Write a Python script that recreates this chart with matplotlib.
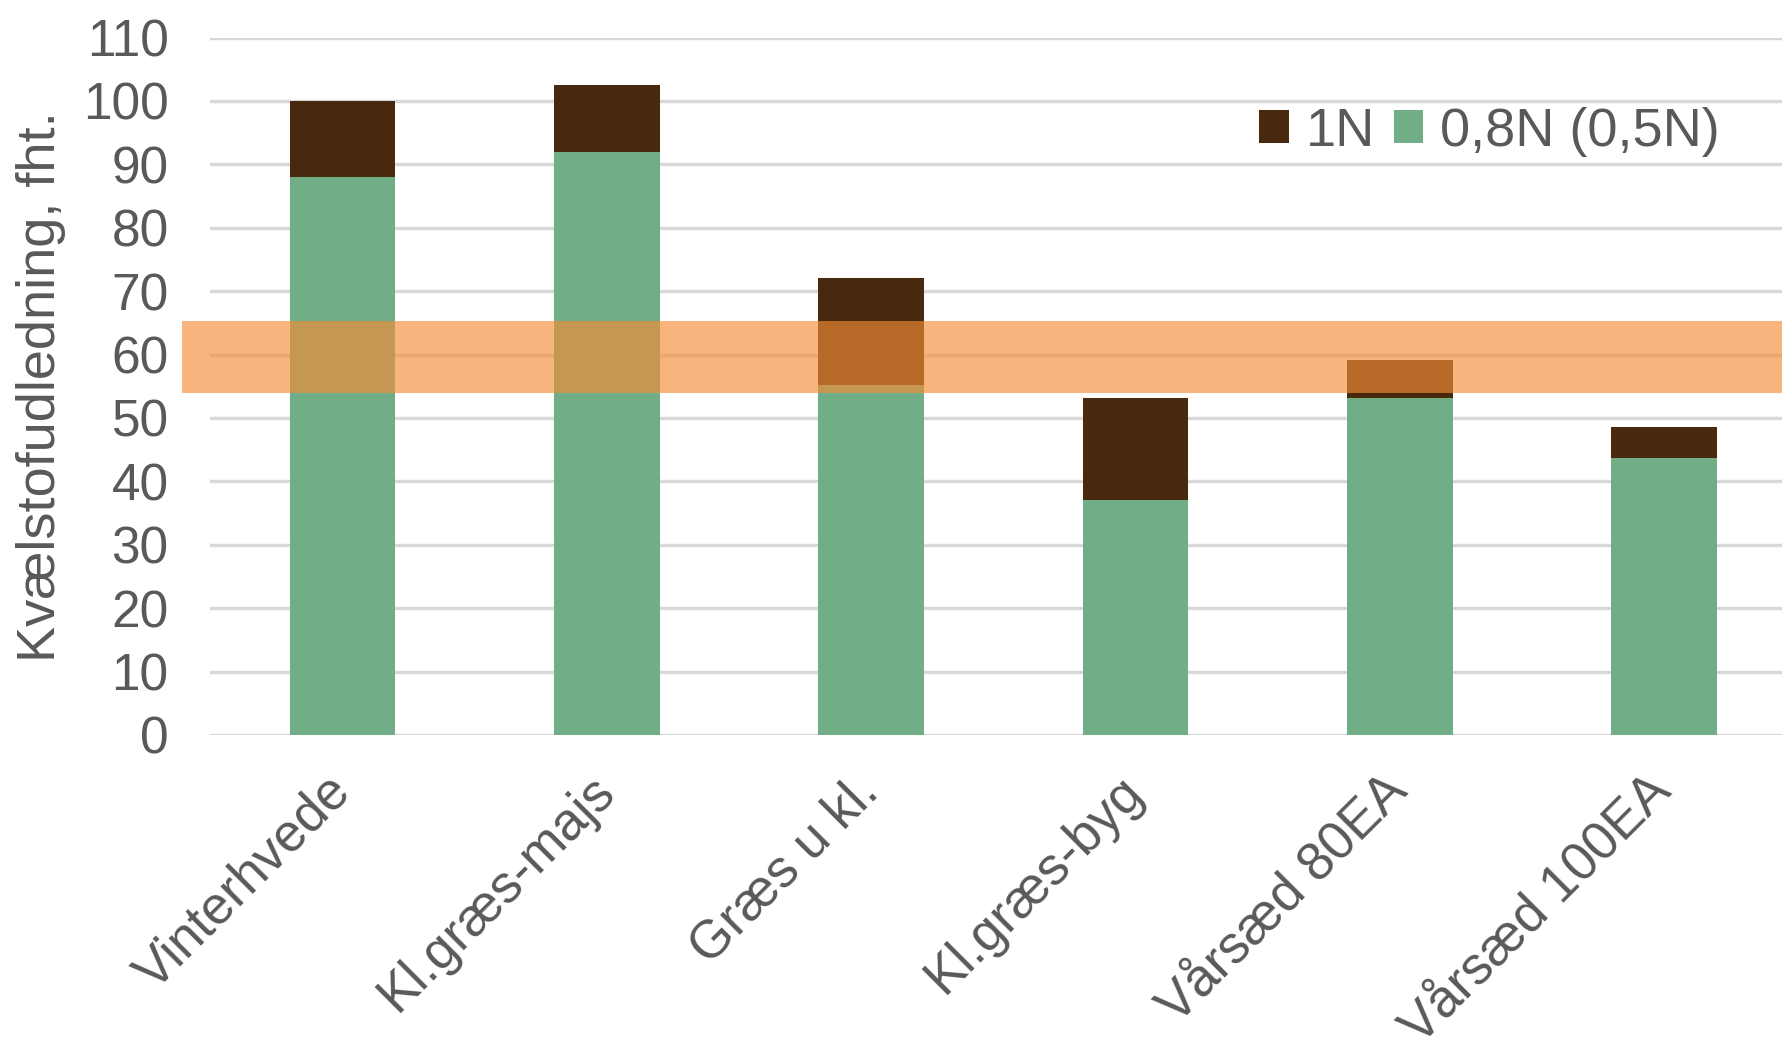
import matplotlib.pyplot as plt
from matplotlib.patches import Rectangle
from matplotlib.transforms import blended_transform_factory

plt.rcParams['font.family'] = ['Liberation Sans', 'DejaVu Sans']

categories = ["Vinterhvede", "Kl.græs-majs", "Græs u kl.", "Kl.græs-byg",
              "Vårsæd 80EA", "Vårsæd 100EA"]
n_1n = [100, 102.5, 72, 53.2, 59.2, 48.6]
n_08n = [88, 92, 55.2, 37, 53.1, 43.7]
band_low = 54
band_high = 65.3

brown = "#48290D"
green = "#71AE88"
grey = "#595959"

fig = plt.figure(figsize=(17.83, 10.54), dpi=100)
ax = fig.add_axes([0.118, 0.3027, 0.882, 0.6617])

x = list(range(len(categories)))
ax.bar(x, n_1n, width=0.4, color=brown, label="1N", zorder=2)
ax.bar(x, n_08n, width=0.4, color=green, label="0,8N (0,5N)", zorder=3)

# orange band across the chart
trans = blended_transform_factory(fig.transFigure, ax.transData)
band = Rectangle((0.102, band_low), 0.9, band_high - band_low, transform=trans,
                 color="#F48C36", alpha=0.65, lw=0, zorder=5, clip_on=False)
fig.add_artist(band)

ax.set_xlim(-0.5, 5.45)
ax.set_ylim(0, 110)
ax.set_yticks(range(0, 111, 10))
ax.yaxis.grid(True, color="#D9D9D9", lw=2.5, zorder=0)
ax.set_axisbelow(True)
for s in ax.spines.values():
    s.set_visible(False)

ax.tick_params(axis="y", length=0, pad=30, labelsize=37, labelcolor=grey)
ax.tick_params(axis="x", length=0, pad=35, labelsize=38, labelcolor=grey)
ax.set_xticks(x)
ax.set_xticklabels(categories, rotation=45, ha="right", va="center",
                   rotation_mode="anchor")
ax.set_ylabel("Kvælstofudledning, fht.", fontsize=39, color=grey, labelpad=12)

fig.legend(loc="center left", bbox_to_anchor=(0.679, 0.875), ncol=2,
           frameon=False, fontsize=39, handlelength=0.55, handleheight=0.55,
           handletextpad=0.3, columnspacing=0.35, labelcolor=grey)

fig.savefig("out.png", dpi=100)
